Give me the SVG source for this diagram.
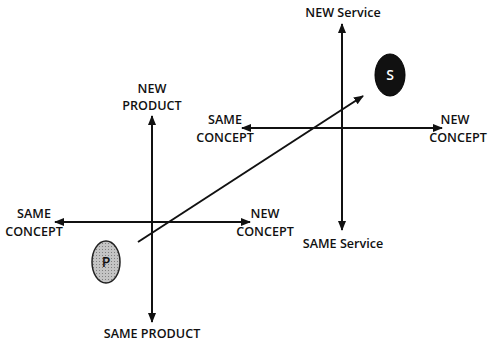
<svg xmlns="http://www.w3.org/2000/svg" width="488" height="343" viewBox="0 0 488 343">
  <defs>
    <marker id="arrow" viewBox="0 0 10 10" refX="9" refY="5" markerWidth="5" markerHeight="5" orient="auto-start-reverse" markerUnits="strokeWidth">
      <path d="M0,1 L10,5 L0,9 z" fill="#111"/>
    </marker>
    <pattern id="dots" width="3" height="3" patternUnits="userSpaceOnUse">
      <rect width="3" height="3" fill="#c4c4c4"/>
      <rect width="1" height="1" fill="#808080"/>
    </pattern>
  </defs>
  <style>
    .axis { stroke: #111; stroke-width: 2; fill: none; }
    .lbl { font-family: "Open Sans", "Liberation Sans", sans-serif; font-size: 12.6px; font-weight: 600; fill: #111; text-anchor: middle; }
    .big { font-size: 14px; }
  </style>
  <rect width="488" height="343" fill="#fff"/>

  <g id="connectors">
    <!-- product axes -->
    <line class="axis" x1="152" y1="322" x2="152" y2="116" marker-start="url(#arrow)" marker-end="url(#arrow)"/>
    <line class="axis" x1="55" y1="222" x2="250" y2="222" marker-start="url(#arrow)" marker-end="url(#arrow)"/>
    <!-- service axes -->
    <line class="axis" x1="342" y1="230" x2="342" y2="24" marker-start="url(#arrow)" marker-end="url(#arrow)"/>
    <line class="axis" x1="242" y1="128" x2="442" y2="128" marker-start="url(#arrow)" marker-end="url(#arrow)"/>
    <!-- transition from product to service -->
    <line class="axis" x1="138" y1="242" x2="363" y2="96" marker-end="url(#arrow)"/>
  </g>

  <g id="node-p">
    <ellipse cx="106" cy="262" rx="14" ry="21" fill="url(#dots)" stroke="#222" stroke-width="1.5"/>
    <text class="lbl big" x="106" y="267">P</text>
  </g>

  <g id="node-s">
    <ellipse cx="390" cy="75" rx="15" ry="21" fill="#111" stroke="#000" stroke-width="1"/>
    <text class="lbl big" x="390" y="80" style="fill:#fff">S</text>
  </g>

  <g id="labels-product">
    <text class="lbl" x="152" y="93">NEW</text>
    <text class="lbl" x="152" y="110">PRODUCT</text>
    <text class="lbl" x="152" y="338">SAME PRODUCT</text>
    <text class="lbl" x="34" y="218">SAME</text>
    <text class="lbl" x="34" y="236">CONCEPT</text>
    <text class="lbl" x="265" y="218">NEW</text>
    <text class="lbl" x="265" y="236">CONCEPT</text>
  </g>

  <g id="labels-service">
    <text class="lbl" x="343" y="17">NEW Service</text>
    <text class="lbl" x="343" y="248">SAME Service</text>
    <text class="lbl" x="225" y="124">SAME</text>
    <text class="lbl" x="225" y="142">CONCEPT</text>
    <text class="lbl" x="455" y="124">NEW</text>
    <text class="lbl" x="458" y="142">CONCEPT</text>
  </g>
</svg>
